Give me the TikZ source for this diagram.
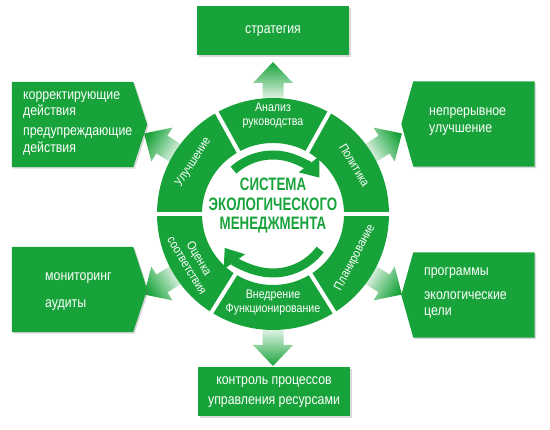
\documentclass[tikz,border=0pt]{standalone}
\usepackage{fontspec}
\setmainfont{Liberation Sans}
\newfontfamily\narrowfont[FakeStretch=0.85]{Liberation Sans}
\newfontfamily\titlefont[FakeStretch=0.74]{Liberation Sans}
\usetikzlibrary{arrows.meta,calc,shadows}
\definecolor{ecogreen}{RGB}{24,163,58}

\begin{document}
\begin{tikzpicture}[x=1pt, y=1pt,
  shd/.style={drop shadow={shadow xshift=1.5pt, shadow yshift=-1.5pt, opacity=0.3}},
  box/.style={fill=ecogreen, shd, minimum width=152pt, minimum height=49pt,
    text=white, font=\narrowfont\fontsize{14.5}{20}\selectfont, align=center},
  plate/.style={minimum width=121pt, minimum height=85pt, inner sep=0pt},
  txt/.style={text=white, font=\narrowfont\fontsize{14.5}{16.5}\selectfont,
    align=left, inner sep=0pt, anchor=west},
  seg/.style={text=white, font=\narrowfont\fontsize{12.5}{14}\selectfont,
    align=center, inner sep=0pt},
  loop/.style={ecogreen, line width=9pt, -{Triangle[width=25pt,length=17pt]}},
]
\useasboundingbox (0,0) rectangle (550,430);
\coordinate (c) at (273,216);

\foreach [evaluate={\s=\a-90;}] \a in {90,148,32,212,328,270} {
  \shade[top color=ecogreen, bottom color=white, shading angle=\s]
    ($(c)+(\a:110)+(\a+90:10.5)$) -- ($(c)+(\a:131)+(\a+90:10.5)$)
    -- ($(c)+(\a:131)+(\a+90:20)$) -- ($(c)+(\a:152)$)
    -- ($(c)+(\a:131)+(\a-90:20)$) -- ($(c)+(\a:131)+(\a-90:10.5)$)
    -- ($(c)+(\a:110)+(\a-90:10.5)$) -- cycle;
}

\fill[ecogreen, even odd rule] (c) circle[radius=116pt] (c) circle[radius=71pt];
\foreach \a in {0,61,119,180,238,302} {
  \draw[white, line width=4pt] ($(c)+(\a:68)$) -- ($(c)+(\a:120)$);
}

\draw[loop] ($(c)+(132:59)$) arc[start angle=132, end angle=38, radius=59pt];
\draw[loop] ($(c)+(-37:59)$) arc[start angle=-37, end angle=-145, radius=59pt];

\node (title) [text=ecogreen, font=\titlefont\bfseries\fontsize{18}{19.5}\selectfont,
  align=center] at (273,224) {СИСТЕМА\\ЭКОЛОГИЧЕСКОГО\\МЕНЕДЖМЕНТА};

\node (analiz) [seg] at ($(c)+(90:98)$) {Анализ\\руководства};
\node (polit) [seg, rotate=-59] at ($(c)+(31:95)$) {Политика};
\node (plan) [seg, rotate=62] at ($(c)+(-28:93)$) {Планирование};
\node (vnedr) [seg] at ($(c)+(-90:89)$) {Внедрение\\Функционирование};
\node (ocen) [seg, rotate=-59] at ($(c)+(211:93)$) {Оценка\\соответствия};
\node (uluch) [seg, rotate=57] at ($(c)+(147:95)$) {Улучшение};

\node (strat) [box] at (273,399) {стратегия};
\node (kontr) [box] at (274,38) {контроль процессов\\управления ресурсами};

\node (kor) [plate] at (72.5,305.5) {};
\node (mon) [plate] at (72.5,140.5) {};
\node (nep) [plate] at (474,306) {};
\node (prog) [plate] at (474,135) {};
\foreach \p in {kor,mon} {
  \fill[ecogreen, shd] (\p.north west) -- (\p.north east) -- ([xshift=14pt]\p.east)
    -- (\p.south east) -- (\p.south west) -- cycle;
}
\foreach \p in {nep,prog} {
  \fill[ecogreen, shd] (\p.north east) -- (\p.north west) -- ([xshift=-12pt]\p.west)
    -- (\p.south west) -- (\p.south east) -- cycle;
}

\node (kortxt) [txt] at (23,306.5)
  {корректирующие\\действия\\[3.5pt]предупреждающие\\действия};
\node (neptxt) [txt] at (429,308.5) {непрерывное\\улучшение};
\node (montxt) [txt] at (45,138.5) {мониторинг\\[10pt]аудиты};
\node (progtxt) [txt] at (424,136.5) {программы\\[7pt]экологические\\цели};

\end{tikzpicture}
\end{document}
